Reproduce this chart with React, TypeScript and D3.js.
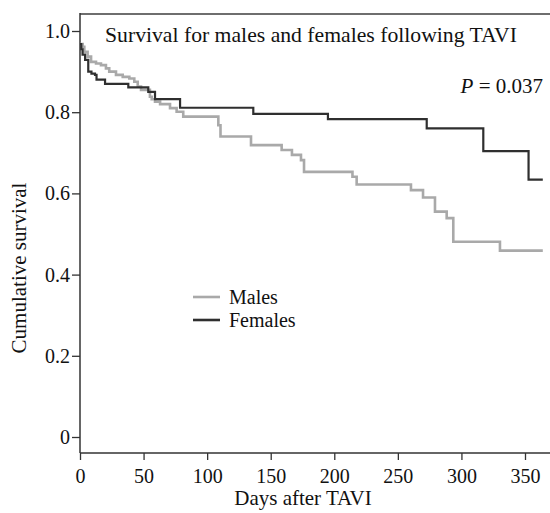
import React, { useRef, useEffect } from 'react';
import * as d3 from 'd3';

// Kaplan-Meier steps: [day, survival after the step]
const femaleDays = [0, 1, 2, 4, 6.5, 9, 11.8, 13, 19.7, 38, 53.7, 59, 78.7, 136.3, 195, 272.7, 317.2, 352.8, 364];
const femaleSurv = [0.968, 0.955, 0.942, 0.929, 0.9, 0.895, 0.892, 0.88, 0.87, 0.861, 0.85, 0.832, 0.811, 0.796, 0.783, 0.76, 0.704, 0.634, 0.634];

const maleDays = [0, 2.1, 3.4, 6, 8.7, 12.6, 16.5, 20.4, 23, 28.3, 33.6, 38.8, 42.7, 45.4, 48, 55, 56.4, 59, 63, 70.8, 76, 81.2, 108.8, 110.5, 134.5, 158.6, 166.7, 173.8, 176.2, 214.3, 217.6, 260.3, 269.8, 279.2, 288.4, 293.6, 330.3, 364];
const maleSurv = [0.968, 0.961, 0.949, 0.937, 0.924, 0.92, 0.916, 0.908, 0.9, 0.892, 0.887, 0.883, 0.875, 0.863, 0.855, 0.838, 0.832, 0.826, 0.82, 0.81, 0.801, 0.789, 0.768, 0.74, 0.719, 0.707, 0.695, 0.682, 0.653, 0.641, 0.622, 0.608, 0.59, 0.555, 0.539, 0.481, 0.459, 0.459];

const xTicks = [0, 50, 100, 150, 200, 250, 300, 350];
const yTicks = [0, 0.2, 0.4, 0.6, 0.8, 1.0];
const seriesNames = ['Males', 'Females'];
const seriesColors = ['#a9a9a9', '#2f2f2f'];

const W = 550;
const H = 513;
const font = '"Liberation Serif", "Times New Roman", serif';

const App = () => {
  const svgRef = useRef<SVGSVGElement>(null);

  useEffect(() => {
    const svg = d3.select(svgRef.current);
    svg.selectAll('*').remove();

    const x = d3.scaleLinear().domain([0, 350]).range([80, 525]);
    const y = d3.scaleLinear().domain([0, 1]).range([437, 31]);
    const yBottom = 453;
    const yTop = 14;

    // top frame line
    svg.append('line')
      .attr('x1', 80).attr('x2', W)
      .attr('y1', yTop).attr('y2', yTop)
      .attr('stroke', '#6e6e6e').attr('stroke-width', 2);

    // y axis
    const yAxis = svg.append('g')
      .attr('transform', 'translate(80,0)')
      .call(d3.axisLeft(y).tickValues(yTicks).tickSize(8).tickPadding(2)
        .tickFormat((d) => (d === 0 ? '0' : d3.format('.1f')(d as number))));
    yAxis.select('.domain').remove();
    svg.append('line')
      .attr('x1', 80).attr('x2', 80)
      .attr('y1', yTop - 1).attr('y2', yBottom)
      .attr('stroke', '#333').attr('stroke-width', 1.5);

    // x axis
    const xAxis = svg.append('g')
      .attr('transform', `translate(0,${yBottom})`)
      .call(d3.axisBottom(x).tickValues(xTicks).tickSize(7).tickPadding(9));
    xAxis.select('.domain').remove();
    svg.append('line')
      .attr('x1', 80).attr('x2', W)
      .attr('y1', yBottom).attr('y2', yBottom)
      .attr('stroke', '#333').attr('stroke-width', 1.5);

    svg.selectAll('.tick line').attr('stroke', '#333').attr('stroke-width', 1.3);
    svg.selectAll('.tick text')
      .attr('font-family', font).attr('font-size', 20).attr('fill', '#111');

    // survival curves
    const line = d3.line<[number, number]>()
      .x((d) => x(d[0]))
      .y((d) => y(d[1]))
      .curve(d3.curveStepAfter);

    const male: [number, number][] = maleDays.map((d, i) => [d, maleSurv[i]]);
    const female: [number, number][] = femaleDays.map((d, i) => [d, femaleSurv[i]]);

    svg.append('path').datum(male)
      .attr('d', line).attr('fill', 'none')
      .attr('stroke', seriesColors[0]).attr('stroke-width', 2.6);
    svg.append('path').datum(female)
      .attr('d', line).attr('fill', 'none')
      .attr('stroke', seriesColors[1]).attr('stroke-width', 2.2);

    // title and p value
    svg.append('text')
      .attr('x', 105).attr('y', 42)
      .attr('font-family', font).attr('font-size', 21.7).attr('fill', '#111')
      .text('Survival for males and females following TAVI');

    const p = svg.append('text')
      .attr('x', 543).attr('y', 93).attr('text-anchor', 'end')
      .attr('font-family', font).attr('font-size', 21).attr('fill', '#111');
    p.append('tspan').attr('font-style', 'italic').text('P');
    p.append('tspan').text(' = 0.037');

    // legend
    seriesNames.forEach((name, i) => {
      const ly = 297 + i * 23;
      svg.append('line')
        .attr('x1', 193).attr('x2', 220).attr('y1', ly).attr('y2', ly)
        .attr('stroke', seriesColors[i]).attr('stroke-width', 2.6);
      svg.append('text')
        .attr('x', 229).attr('y', ly).attr('dy', '0.35em')
        .attr('font-family', font).attr('font-size', 20).attr('fill', '#111')
        .text(name);
    });

    // axis titles
    svg.append('text')
      .attr('x', 303).attr('y', 505).attr('text-anchor', 'middle')
      .attr('font-family', font).attr('font-size', 21).attr('fill', '#111')
      .text('Days after TAVI');

    svg.append('text')
      .attr('transform', 'translate(26,268) rotate(-90)')
      .attr('text-anchor', 'middle')
      .attr('font-family', font).attr('font-size', 21).attr('fill', '#111')
      .text('Cumulative survival');
  }, []);

  return (
    <div style={{ position: 'absolute', left: 0, top: 0 }}>
      <svg ref={svgRef} width={W} height={H} style={{ display: 'block', background: '#fff' }}></svg>
    </div>
  );
};

export default App;
